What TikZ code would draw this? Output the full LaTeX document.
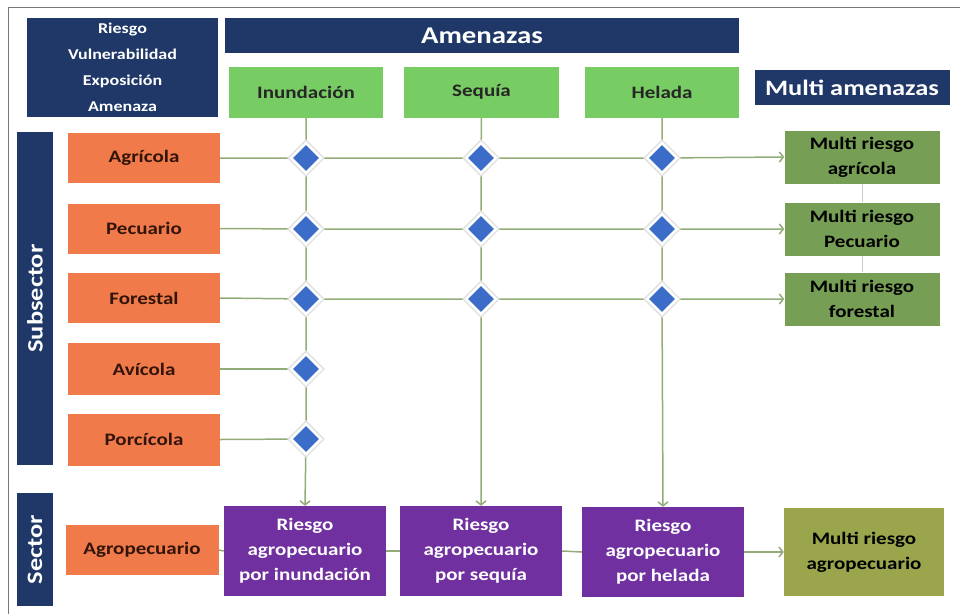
\documentclass[tikz,border=0pt]{standalone}
\usepackage{fontspec}
\setmainfont{Carlito}[FakeStretch=1.2]
\usetikzlibrary{shapes.geometric,arrows.meta,backgrounds}
\definecolor{cnavy}{RGB}{31,56,104}
\definecolor{corange}{RGB}{240,122,74}
\definecolor{cgreen}{RGB}{120,204,100}
\definecolor{cmr}{RGB}{118,158,84}
\definecolor{colive}{RGB}{155,165,75}
\definecolor{cpurple}{RGB}{112,48,160}
\definecolor{cblue}{RGB}{58,108,200}
\definecolor{cline}{RGB}{145,172,118}
\definecolor{cframe}{RGB}{120,120,120}
\definecolor{cotext}{RGB}{50,20,10}
\begin{document}
\begin{tikzpicture}[x=1pt,y=-1pt,
  box/.style={rectangle, inner sep=0pt, align=center, font=\bfseries\fontsize{17.5}{25}\selectfont},
  navy/.style={box, fill=cnavy, text=white},
  haz/.style={box, fill=cgreen, text=black!85, minimum width=154pt, minimum height=51pt},
  sub/.style={box, fill=corange, text=cotext, minimum width=152pt, minimum height=50pt},
  mr/.style={box, fill=cmr, text=black, minimum width=155pt, minimum height=53pt},
  pur/.style={box, fill=cpurple, text=white, minimum width=162pt, minimum height=90pt},
  dia/.style={diamond, fill=cblue, draw=white, line width=2.5pt, minimum width=31pt, minimum height=31pt, inner sep=0pt, preaction={draw=black!12, line width=5.5pt}},
  conn/.style={draw=cline, line width=1.5pt},
  arr/.style={conn, -{Straight Barb[length=4pt,width=10pt]}},
]
\useasboundingbox (0,0) rectangle (960,614);
\draw[cframe, line width=1pt] (8,614) -- (8,7) -- (960,7);

% header
\node[navy, minimum width=191pt, minimum height=99pt, font=\bfseries\fontsize{15}{26}\selectfont] (leg) at (122.5,67.5) {Riesgo\\Vulnerabilidad\\Exposición\\Amenaza};
\node[navy, minimum width=514pt, minimum height=35pt, font=\bfseries\fontsize{24}{28}\selectfont] (amen) at (482,35.5) {Amenazas};
\node[navy, minimum width=195pt, minimum height=35pt, font=\bfseries\fontsize{22}{26}\selectfont] (mam) at (852,87.5) {Multi amenazas};

\node[haz] (hI) at (306,92) {Inundación};
\node[haz, minimum width=155pt] (hS) at (481.5,92) {Sequía};
\node[haz] (hH) at (662,92) {Helada};

% side bars
\node[navy, minimum width=36pt, minimum height=333pt, font=\bfseries\fontsize{22}{26}\selectfont] (subs) at (35,298.5) {\rotatebox{90}{Subsector}};
\node[navy, minimum width=36pt, minimum height=113pt, font=\bfseries\fontsize{22}{26}\selectfont] (sect) at (35,549.5) {\rotatebox{90}{Sector}};

% subsectors
\node[sub] (sA) at (144,158) {Agrícola};
\node[sub] (sP) at (144,228.5) {Pecuario};
\node[sub] (sF) at (144,298) {Forestal};
\node[sub, minimum height=52pt] (sV) at (144,369) {Avícola};
\node[sub, minimum height=52pt] (sC) at (144,439.5) {Porcícola};
\node[sub, minimum width=153pt] (sG) at (142,550) {Agropecuario};

% multi riesgo
\node[mr] (mA) at (862,157) {Multi riesgo\\agrícola};
\node[mr] (mP) at (862,229) {Multi riesgo\\Pecuario};
\node[mr] (mF) at (862,299) {Multi riesgo\\forestal};

% purple
\node[pur] (pI) at (305,551) {Riesgo\\agropecuario\\por inundación};
\node[pur] (pS) at (481,551) {Riesgo\\agropecuario\\por sequía};
\node[pur] (pH) at (663,552) {Riesgo\\agropecuario\\por helada};
\node[box, fill=colive, text=black, minimum width=160pt, minimum height=88pt] (mG) at (864,552) {Multi riesgo\\agropecuario};

% diamonds
\node[dia] (d11) at (306,158) {};
\node[dia] (d12) at (481,158) {};
\node[dia] (d13) at (662,158) {};
\node[dia] (d21) at (306,229) {};
\node[dia] (d22) at (481,229) {};
\node[dia] (d23) at (662,229) {};
\node[dia] (d31) at (306,299) {};
\node[dia] (d32) at (481,299) {};
\node[dia] (d33) at (662,299) {};
\node[dia] (d41) at (306,369) {};
\node[dia] (d51) at (306,439) {};

\begin{pgfonlayer}{background}
  % vertical
  \draw[arr] (hI.south) -- (d11.center) -- (d21.center) -- (d31.center) -- (d41.center) -- (d51.center) -- (pI.north);
  \draw[arr] (hS.south) -- (d12.center) -- (d22.center) -- (d32.center) -- (pS.north);
  \draw[arr] (hH.south) -- (d13.center) -- (d23.center) -- (d33.center) -- (pH.north);
  % horizontal
  \draw[arr] (sA.east) -- (d11.center) -- (d12.center) -- (d13.center) -- (mA.west);
  \draw[arr] (sP.east) -- (d21.center) -- (d22.center) -- (d23.center) -- (mP.west);
  \draw[arr] (sF.east) -- (d31.center) -- (d32.center) -- (d33.center) -- (mF.west);
  \draw[conn] (sV.east) -- (d41.center);
  \draw[conn] (sC.east) -- (d51.center);
  % multi riesgo links
  \draw[draw=black!20, line width=0.8pt] (mA.south) -- (mP.north) (mP.south) -- (mF.north);
  % sector row
  \draw[conn] (sG.east) -- (pI.west);
  \draw[conn] (pI.east) -- (pS.west);
  \draw[conn] (pS.east) -- (pH.west);
  \draw[arr] (pH.east) -- (mG.west);
\end{pgfonlayer}
\end{tikzpicture}
\end{document}
